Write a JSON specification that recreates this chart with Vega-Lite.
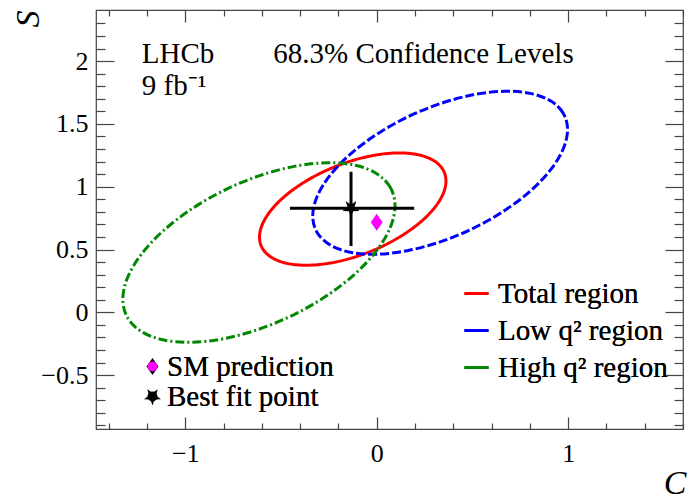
{
  "$schema": "https://vega.github.io/schema/vega-lite/v6.json",
  "width": 587,
  "height": 419,
  "autosize": "none",
  "padding": {"left": 96, "top": 10, "right": 7, "bottom": 72},
  "background": "white",
  "config": {
    "font": "Liberation Serif",
    "view": {"stroke": "#444", "strokeWidth": 1.2},
    "axis": {"grid": false, "domain": false, "tickColor": "#444", "tickWidth": 1.2, "labelColor": "black", "labelFont": "Liberation Serif", "labelFontSize": 26, "titleColor": "black", "titleFont": "Liberation Serif", "labelOverlap": false, "labelFlush": false, "labelBound": false},
    "legend": {"labelFont": "Liberation Serif", "labelColor": "black", "labelLimit": 400, "padding": 0}
  },
  "datasets": {
    "ell": [
      {"region": "Total region", "i": 0, "C": 0.362, "S": 1.0455},
      {"region": "Total region", "i": 1, "C": 0.3454, "S": 1.1381},
      {"region": "Total region", "i": 2, "C": 0.2967, "S": 1.2091},
      {"region": "Total region", "i": 3, "C": 0.2194, "S": 1.2538},
      {"region": "Total region", "i": 4, "C": 0.1185, "S": 1.269},
      {"region": "Total region", "i": 5, "C": 0.001, "S": 1.2538},
      {"region": "Total region", "i": 6, "C": -0.125, "S": 1.2091},
      {"region": "Total region", "i": 7, "C": -0.251, "S": 1.1381},
      {"region": "Total region", "i": 8, "C": -0.3685, "S": 1.0455},
      {"region": "Total region", "i": 9, "C": -0.4694, "S": 0.9377},
      {"region": "Total region", "i": 10, "C": -0.5467, "S": 0.822},
      {"region": "Total region", "i": 11, "C": -0.5954, "S": 0.7063},
      {"region": "Total region", "i": 12, "C": -0.612, "S": 0.5985},
      {"region": "Total region", "i": 13, "C": -0.5954, "S": 0.5059},
      {"region": "Total region", "i": 14, "C": -0.5467, "S": 0.4349},
      {"region": "Total region", "i": 15, "C": -0.4694, "S": 0.3902},
      {"region": "Total region", "i": 16, "C": -0.3685, "S": 0.375},
      {"region": "Total region", "i": 17, "C": -0.251, "S": 0.3902},
      {"region": "Total region", "i": 18, "C": -0.125, "S": 0.4349},
      {"region": "Total region", "i": 19, "C": 0.001, "S": 0.5059},
      {"region": "Total region", "i": 20, "C": 0.1185, "S": 0.5985},
      {"region": "Total region", "i": 21, "C": 0.2194, "S": 0.7063},
      {"region": "Total region", "i": 22, "C": 0.2967, "S": 0.822},
      {"region": "Total region", "i": 23, "C": 0.3454, "S": 0.9377},
      {"region": "Low q² region", "i": 0, "C": 0.997, "S": 1.455},
      {"region": "Low q² region", "i": 1, "C": 0.9743, "S": 1.5857},
      {"region": "Low q² region", "i": 2, "C": 0.9078, "S": 1.6841},
      {"region": "Low q² region", "i": 3, "C": 0.8021, "S": 1.7434},
      {"region": "Low q² region", "i": 4, "C": 0.6643, "S": 1.7597},
      {"region": "Low q² region", "i": 5, "C": 0.5037, "S": 1.7316},
      {"region": "Low q² region", "i": 6, "C": 0.3315, "S": 1.6614},
      {"region": "Low q² region", "i": 7, "C": 0.1593, "S": 1.5536},
      {"region": "Low q² region", "i": 8, "C": -0.0013, "S": 1.4157},
      {"region": "Low q² region", "i": 9, "C": -0.1391, "S": 1.257},
      {"region": "Low q² region", "i": 10, "C": -0.2448, "S": 1.0883},
      {"region": "Low q² region", "i": 11, "C": -0.3113, "S": 0.9211},
      {"region": "Low q² region", "i": 12, "C": -0.334, "S": 0.767},
      {"region": "Low q² region", "i": 13, "C": -0.3113, "S": 0.6363},
      {"region": "Low q² region", "i": 14, "C": -0.2448, "S": 0.5379},
      {"region": "Low q² region", "i": 15, "C": -0.1391, "S": 0.4786},
      {"region": "Low q² region", "i": 16, "C": -0.0013, "S": 0.4623},
      {"region": "Low q² region", "i": 17, "C": 0.1593, "S": 0.4904},
      {"region": "Low q² region", "i": 18, "C": 0.3315, "S": 0.5606},
      {"region": "Low q² region", "i": 19, "C": 0.5037, "S": 0.6684},
      {"region": "Low q² region", "i": 20, "C": 0.6643, "S": 0.8063},
      {"region": "Low q² region", "i": 21, "C": 0.8021, "S": 0.965},
      {"region": "Low q² region", "i": 22, "C": 0.9078, "S": 1.1337},
      {"region": "Low q² region", "i": 23, "C": 0.9743, "S": 1.3009},
      {"region": "High q² region", "i": 0, "C": 0.0958, "S": 0.8478},
      {"region": "High q² region", "i": 1, "C": 0.0716, "S": 0.9931},
      {"region": "High q² region", "i": 2, "C": 0.0006, "S": 1.1033},
      {"region": "High q² region", "i": 3, "C": -0.1124, "S": 1.1707},
      {"region": "High q² region", "i": 4, "C": -0.2596, "S": 1.1907},
      {"region": "High q² region", "i": 5, "C": -0.431, "S": 1.162},
      {"region": "High q² region", "i": 6, "C": -0.615, "S": 1.0866},
      {"region": "High q² region", "i": 7, "C": -0.799, "S": 0.9696},
      {"region": "High q² region", "i": 8, "C": -0.9704, "S": 0.8189},
      {"region": "High q² region", "i": 9, "C": -1.1176, "S": 0.6449},
      {"region": "High q² region", "i": 10, "C": -1.2306, "S": 0.4593},
      {"region": "High q² region", "i": 11, "C": -1.3016, "S": 0.2749},
      {"region": "High q² region", "i": 12, "C": -1.3258, "S": 0.1042},
      {"region": "High q² region", "i": 13, "C": -1.3016, "S": -0.0411},
      {"region": "High q² region", "i": 14, "C": -1.2306, "S": -0.1513},
      {"region": "High q² region", "i": 15, "C": -1.1176, "S": -0.2187},
      {"region": "High q² region", "i": 16, "C": -0.9704, "S": -0.2387},
      {"region": "High q² region", "i": 17, "C": -0.799, "S": -0.21},
      {"region": "High q² region", "i": 18, "C": -0.615, "S": -0.1346},
      {"region": "High q² region", "i": 19, "C": -0.431, "S": -0.0176},
      {"region": "High q² region", "i": 20, "C": -0.2596, "S": 0.1331},
      {"region": "High q² region", "i": 21, "C": -0.1124, "S": 0.3071},
      {"region": "High q² region", "i": 22, "C": 0.0006, "S": 0.4927},
      {"region": "High q² region", "i": 23, "C": 0.0716, "S": 0.6771}
    ],
    "fit": [{"C": -0.134, "S": 0.828, "Clo": -0.453, "Chi": 0.196, "Slo": 0.528, "Shi": 1.119}],
    "pts": [
      {"marker": "SM prediction", "C": 0.0, "S": 0.717},
      {"marker": "Best fit point", "C": -0.134, "S": 0.828}
    ],
    "txt": [
      {"label": "LHCb", "C": -1.227, "S": 1.982},
      {"label": "9 fb⁻¹", "C": -1.227, "S": 1.730},
      {"label": "68.3% Confidence Levels", "C": -0.540, "S": 1.982}
    ]
  },
  "layer": [
    {
      "data": {"name": "ell"},
      "mark": {"type": "line", "interpolate": "cardinal-closed", "strokeWidth": 3},
      "encoding": {
        "x": {"field": "C", "type": "quantitative", "scale": {"domain": [-1.466, 1.6], "nice": false, "zero": false},
          "axis": {"orient": "bottom", "values": [-1, 0, 1], "format": "~g", "tickSize": -12, "labelPadding": 23,
            "title": "C", "titleFontSize": 34, "titleFontStyle": "italic", "titleFontWeight": "normal",
            "titleAlign": "right", "titleBaseline": "alphabetic", "titleX": 590, "titleY": 64}},
        "y": {"field": "S", "type": "quantitative", "scale": {"domain": [-0.929, 2.407], "nice": false, "zero": false},
          "axis": {"orient": "left", "values": [-0.5, 0, 0.5, 1, 1.5, 2], "format": "~g", "tickSize": -18, "labelPadding": 26,
            "title": "S", "titleFontSize": 34, "titleFontStyle": "italic", "titleFontWeight": "normal",
            "titleAngle": -90, "titleAlign": "right", "titleBaseline": "middle", "titleX": -68, "titleY": 0}},
        "order": {"field": "i", "type": "quantitative"},
        "color": {"field": "region", "type": "nominal",
          "scale": {"domain": ["Total region", "Low q² region", "High q² region"], "range": ["#ff0000", "#0000ff", "#008800"]},
          "legend": {"orient": "none", "legendX": 366, "legendY": 269, "title": null, "symbolType": "stroke", "symbolSize": 590, "symbolStrokeWidth": 3, "labelFontSize": 29, "labelOffset": 7, "rowPadding": 7}},
        "strokeDash": {"field": "region", "type": "nominal",
          "scale": {"domain": ["Total region", "Low q² region", "High q² region"], "range": [[1, 0], [9, 3], [9, 3, 2, 3]]},
          "legend": {"orient": "none", "legendX": 366, "legendY": 269, "title": null, "symbolType": "stroke", "symbolSize": 590, "symbolStrokeWidth": 3, "labelFontSize": 29, "labelOffset": 7, "rowPadding": 7}}
      }
    },
    {
      "data": {"name": "fit"},
      "mark": {"type": "rule", "color": "black", "strokeWidth": 3},
      "encoding": {
        "x": {"field": "Clo", "type": "quantitative", "scale": {"domain": [-1.466, 1.6], "nice": false, "zero": false},
          "axis": {"orient": "bottom", "values": [-1.4, -1.2, -0.8, -0.6, -0.4, -0.2, 0.2, 0.4, 0.6, 0.8, 1.2, 1.4, 1.6], "tickSize": -6, "labels": false, "title": null}},
        "x2": {"field": "Chi"},
        "y": {"field": "S", "type": "quantitative", "scale": {"domain": [-0.929, 2.407], "nice": false, "zero": false},
          "axis": {"orient": "left", "values": [-0.9, -0.8, -0.7, -0.6, -0.4, -0.3, -0.2, -0.1, 0.1, 0.2, 0.3, 0.4, 0.6, 0.7, 0.8, 0.9, 1.1, 1.2, 1.3, 1.4, 1.6, 1.7, 1.8, 1.9, 2.1, 2.2, 2.3], "tickSize": -9, "labels": false, "title": null}}
      }
    },
    {
      "data": {"name": "fit"},
      "mark": {"type": "rule", "color": "black", "strokeWidth": 3},
      "encoding": {
        "x": {"field": "C", "type": "quantitative", "scale": {"domain": [-1.466, 1.6], "nice": false, "zero": false},
          "axis": {"orient": "top", "values": [-1, 0, 1], "tickSize": -12, "labels": false, "title": null}},
        "y": {"field": "Slo", "type": "quantitative", "scale": {"domain": [-0.929, 2.407], "nice": false, "zero": false},
          "axis": {"orient": "right", "values": [-0.5, 0, 0.5, 1, 1.5, 2], "tickSize": -18, "labels": false, "title": null}},
        "y2": {"field": "Shi"}
      }
    },
    {
      "data": {"name": "pts"},
      "mark": {"type": "point", "filled": true, "opacity": 1, "strokeWidth": 0},
      "encoding": {
        "x": {"field": "C", "type": "quantitative", "scale": {"domain": [-1.466, 1.6], "nice": false, "zero": false},
          "axis": {"orient": "top", "values": [-1.4, -1.2, -0.8, -0.6, -0.4, -0.2, 0.2, 0.4, 0.6, 0.8, 1.2, 1.4, 1.6], "tickSize": -6, "labels": false, "title": null}},
        "y": {"field": "S", "type": "quantitative", "scale": {"domain": [-0.929, 2.407], "nice": false, "zero": false},
          "axis": {"orient": "right", "values": [-0.9, -0.8, -0.7, -0.6, -0.4, -0.3, -0.2, -0.1, 0.1, 0.2, 0.3, 0.4, 0.6, 0.7, 0.8, 0.9, 1.1, 1.2, 1.3, 1.4, 1.6, 1.7, 1.8, 1.9, 2.1, 2.2, 2.3], "tickSize": -9, "labels": false, "title": null}},
        "shape": {"field": "marker", "type": "nominal",
          "scale": {"domain": ["SM prediction", "Best fit point"], "range": ["M0,-1L0.7,0L0,1L-0.7,0Z", "M0,1L-0.235,0.324L-0.951,0.309L-0.38,-0.124L-0.588,-0.809L0,-0.4L0.588,-0.809L0.38,-0.124L0.951,0.309L0.235,0.324Z"]},
          "legend": {"orient": "none", "legendX": 42, "legendY": 342, "title": null, "labelFontSize": 29, "labelOffset": 0, "rowPadding": -5, "symbolStrokeWidth": 0}},
        "color": {"field": "marker", "type": "nominal",
          "scale": {"domain": ["SM prediction", "Best fit point"], "range": ["#ff00ff", "#000000"]},
          "legend": {"orient": "none", "legendX": 42, "legendY": 342, "title": null, "labelFontSize": 29, "labelOffset": 0, "rowPadding": -5, "symbolStrokeWidth": 0}},
        "size": {"field": "marker", "type": "nominal",
          "scale": {"domain": ["SM prediction", "Best fit point"], "range": [289, 320]},
          "legend": {"orient": "none", "legendX": 42, "legendY": 342, "title": null, "labelFontSize": 29, "labelOffset": 0, "rowPadding": -5, "symbolStrokeWidth": 0}}
      }
    },
    {
      "data": {"name": "txt"},
      "mark": {"type": "text", "align": "left", "baseline": "alphabetic", "fontSize": 29, "font": "Liberation Serif", "color": "black"},
      "encoding": {
        "x": {"field": "C", "type": "quantitative", "scale": {"domain": [-1.466, 1.6], "nice": false, "zero": false}, "axis": null},
        "y": {"field": "S", "type": "quantitative", "scale": {"domain": [-0.929, 2.407], "nice": false, "zero": false}, "axis": null},
        "text": {"field": "label"}
      }
    }
  ],
  "resolve": {
    "scale": {"color": "independent"},
    "axis": {"x": "independent", "y": "independent"},
    "legend": {"color": "independent"}
  }
}
